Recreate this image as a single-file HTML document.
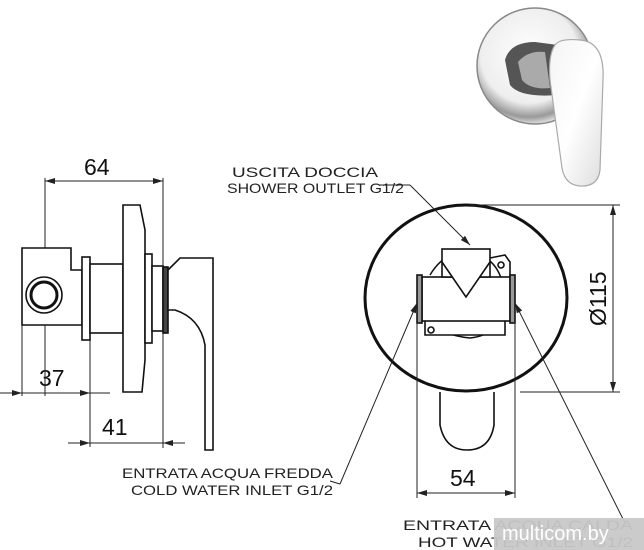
<!DOCTYPE html>
<html><head><style>html,body{margin:0;padding:0;background:#fff}svg{display:block}</style></head>
<body>
<svg width="644" height="550" viewBox="0 0 644 550" xmlns="http://www.w3.org/2000/svg" font-family="Liberation Sans, sans-serif">
<defs>
<radialGradient id="g1" cx="0.45" cy="0.4" r="0.6"><stop offset="0" stop-color="#fff"/><stop offset="0.7" stop-color="#eee"/><stop offset="0.9" stop-color="#999"/><stop offset="1" stop-color="#ddd"/></radialGradient>
<linearGradient id="g2" x1="0" y1="0" x2="1" y2="1"><stop offset="0" stop-color="#f4f4f4"/><stop offset="0.5" stop-color="#fff"/><stop offset="1" stop-color="#ddd"/></linearGradient>
<marker id="a" markerWidth="10" markerHeight="6" refX="10" refY="3" orient="auto-start-reverse" markerUnits="userSpaceOnUse"><path d="M0,0 L10,3 L0,6z" fill="#222"/></marker>
</defs>
<!-- photo -->
<circle cx="535" cy="66" r="58" fill="url(#g1)" stroke="#888" stroke-width="1.5"/>
<path d="M505,60 Q510,42 535,42 L558,45 L558,95 Q520,98 510,85 Z" fill="#555"/>
<path d="M518,62 Q528,50 545,52 L550,88 Q530,90 522,80 Z" fill="#aaa"/>
<path d="M555,45 Q560,38 580,40 Q605,42 603,80 L600,170 Q598,187 580,186 Q565,185 562,168 L550,80 Q548,55 555,45Z" fill="url(#g2)" stroke="#aaa" stroke-width="1.2"/>
<g stroke="#222" fill="none" stroke-width="1">
<line x1="45" y1="181" x2="163" y2="181" marker-start="url(#a)" marker-end="url(#a)"/>
<line x1="45" y1="178" x2="45" y2="396"/>
<line x1="163" y1="178" x2="163" y2="448"/>
<line x1="0" y1="393" x2="110" y2="393"/>
<line x1="10" y1="393" x2="22" y2="393" marker-end="url(#a)"/>
<line x1="22" y1="393" x2="90" y2="393" marker-end="url(#a)"/>
<line x1="22" y1="325" x2="22" y2="396"/>
<line x1="90" y1="340" x2="90" y2="447"/>
<line x1="68" y1="443" x2="185" y2="443"/>
<line x1="78" y1="443" x2="90" y2="443" marker-end="url(#a)"/>
<line x1="175" y1="443" x2="163" y2="443" marker-end="url(#a)"/>
</g>
<g stroke="#111" fill="#fff" stroke-width="1.6">
<path d="M22,248 L71,248 L71,270 L82,270 L82,325 L22,325 Z"/>
<circle cx="44" cy="295" r="18"/>
<circle cx="44" cy="295" r="13" stroke-width="3"/>
<rect x="82" y="257" width="8" height="83"/>
<rect x="90" y="264" width="33" height="69"/>
<path d="M123,205 L140,205 L145,230 L145,360 L142,392 L123,392 Z"/>
<rect x="145" y="254" width="7" height="89"/>
<rect x="152" y="266" width="11" height="65"/>
<rect x="163" y="267" width="5" height="66" fill="#444"/>
<path d="M168,270 L180,258 L213,258 L213,450 L205,450 L205,345 Q200,318 175,310 L168,310 Z"/>
</g>
<!-- right view -->
<g stroke="#111" fill="#fff" stroke-width="1.6">
<path d="M440,392 L440,425 Q445,450 467,450 Q490,450 494,425 L494,392"/>
<ellipse cx="466" cy="298" rx="101" ry="93" stroke-width="3"/>
<path d="M430,275 Q445,250 470,252 Q505,258 505,305 Q500,335 470,338 Q440,335 432,320" stroke-width="1.5"/>
<path d="M425,318 L425,335 L505,335 L505,318 Z" fill="#fff"/>
<rect x="422" y="277" width="88" height="44"/>
<rect x="442" y="249" width="48" height="28"/>
<path d="M442,262 L466,297 L490,262" />
<path d="M490,258 L505,255 L510,262 L510,277"/>
<circle cx="501" cy="265" r="3"/>
<circle cx="431" cy="330" r="3"/>
<rect x="417" y="275" width="5" height="48" fill="#999"/>
<rect x="510" y="275" width="5" height="48" fill="#999"/>
</g>
<g stroke="#222" fill="none" stroke-width="1">
<line x1="470" y1="205" x2="620" y2="205"/>
<line x1="520" y1="392" x2="620" y2="392"/>
<line x1="613" y1="205" x2="613" y2="392" marker-start="url(#a)" marker-end="url(#a)"/>
<line x1="417" y1="322" x2="417" y2="498"/>
<line x1="515" y1="322" x2="515" y2="498"/>
<line x1="417" y1="493" x2="515" y2="493" marker-start="url(#a)" marker-end="url(#a)"/>
<line x1="410" y1="185" x2="470" y2="245" marker-end="url(#a)"/>
<line x1="340" y1="484" x2="417" y2="303" marker-end="url(#a)"/>
<line x1="515" y1="303" x2="626" y2="525" marker-start="url(#a)"/>
<line x1="330" y1="481" x2="340" y2="484"/>
<line x1="380" y1="185" x2="410" y2="185"/>
</g>
<g fill="#111" font-size="23">
<text x="84" y="175">64</text>
<text x="39" y="386">37</text>
<text x="102" y="435">41</text>
<text x="450" y="486">54</text>
<text transform="translate(606,326) rotate(-90)">Ø115</text>
</g>
<g fill="#222" font-size="14">
<text x="232" y="177" textLength="146" lengthAdjust="spacingAndGlyphs">USCITA DOCCIA</text>
<text x="227" y="193" textLength="177" lengthAdjust="spacingAndGlyphs">SHOWER OUTLET G1/2</text>
<text x="122" y="478" textLength="211" lengthAdjust="spacingAndGlyphs">ENTRATA ACQUA FREDDA</text>
<text x="131" y="495" textLength="202" lengthAdjust="spacingAndGlyphs">COLD WATER INLET G1/2</text>
<text x="403" y="530" textLength="230" lengthAdjust="spacingAndGlyphs">ENTRATA ACQUA CALDA</text>
<text x="418" y="547" textLength="215" lengthAdjust="spacingAndGlyphs">HOT WATER INLET G1/2</text>
</g>
<rect x="494" y="518" width="150" height="32" fill="#c8c8c8" opacity="0.95"/>
<text x="502" y="540" fill="#fff" font-size="20">multicom.by</text>
</svg>
</body></html>
